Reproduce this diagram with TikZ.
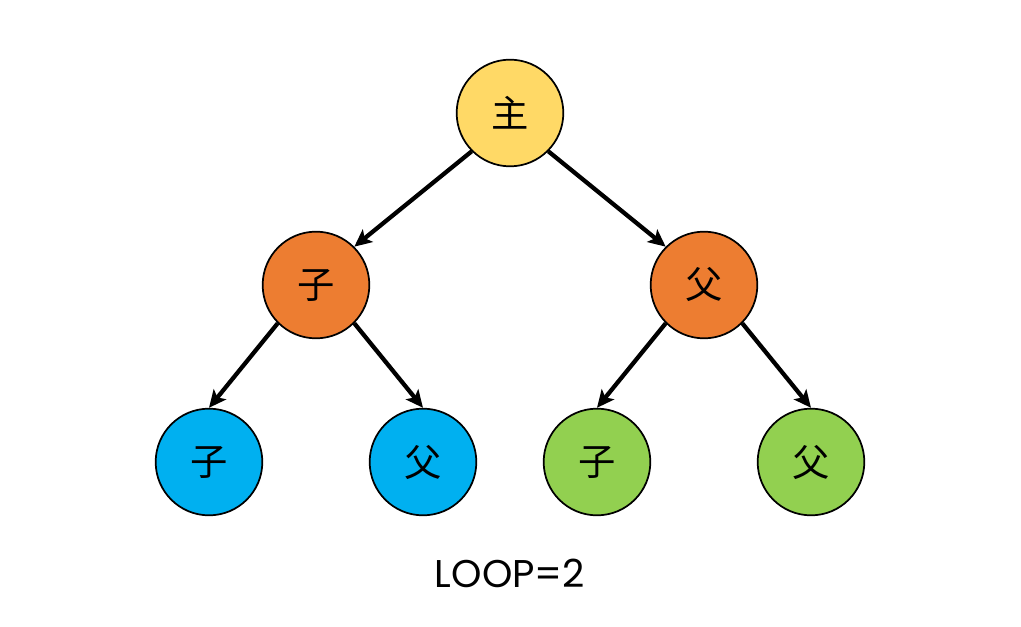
\documentclass[tikz,border=0pt]{standalone}
\usepackage{fontspec}
\setmainfont{Poppins}
\newfontfamily\cjk{Noto Sans CJK SC}
\usetikzlibrary{arrows.meta}
\definecolor{cyellow}{HTML}{FFD966}
\definecolor{corange}{HTML}{ED7D31}
\definecolor{cblue}{HTML}{00B0F0}
\definecolor{cgreen}{HTML}{92D050}
\tikzset{
  nd/.style={circle, draw=black, line width=1.3pt, minimum size=80pt, inner sep=0pt, font=\cjk\fontsize{28}{28}\selectfont},
  arr/.style={line width=3.2pt, -{Stealth[length=13pt,width=12pt,inset=3pt]}}
}
\begin{document}
\begin{tikzpicture}[x=0.75pt,y=-0.75pt]
\useasboundingbox (0,0) rectangle (1021,627);
\node[nd, fill=cyellow] (root) at (510,113) {主};
\node[nd, fill=corange] (l) at (316,285) {子};
\node[nd, fill=corange] (r) at (704,285) {父};
\node[nd, fill=cblue] (ll) at (209,462) {子};
\node[nd, fill=cblue] (lr) at (423,462) {父};
\node[nd, fill=cgreen] (rl) at (597,462) {子};
\node[nd, fill=cgreen] (rr) at (811,462) {父};
\draw[arr] (root.225) -- (l.45);
\draw[arr] (root.315) -- (r.135);
\draw[arr] (l.225) -- (ll.north);
\draw[arr] (l.315) -- (lr.north);
\draw[arr] (r.225) -- (rl.north);
\draw[arr] (r.315) -- (rr.north);
\node[font=\fontsize{29}{29}\selectfont] (cap) at (510,573) {LOOP=2};
\end{tikzpicture}
\end{document}
